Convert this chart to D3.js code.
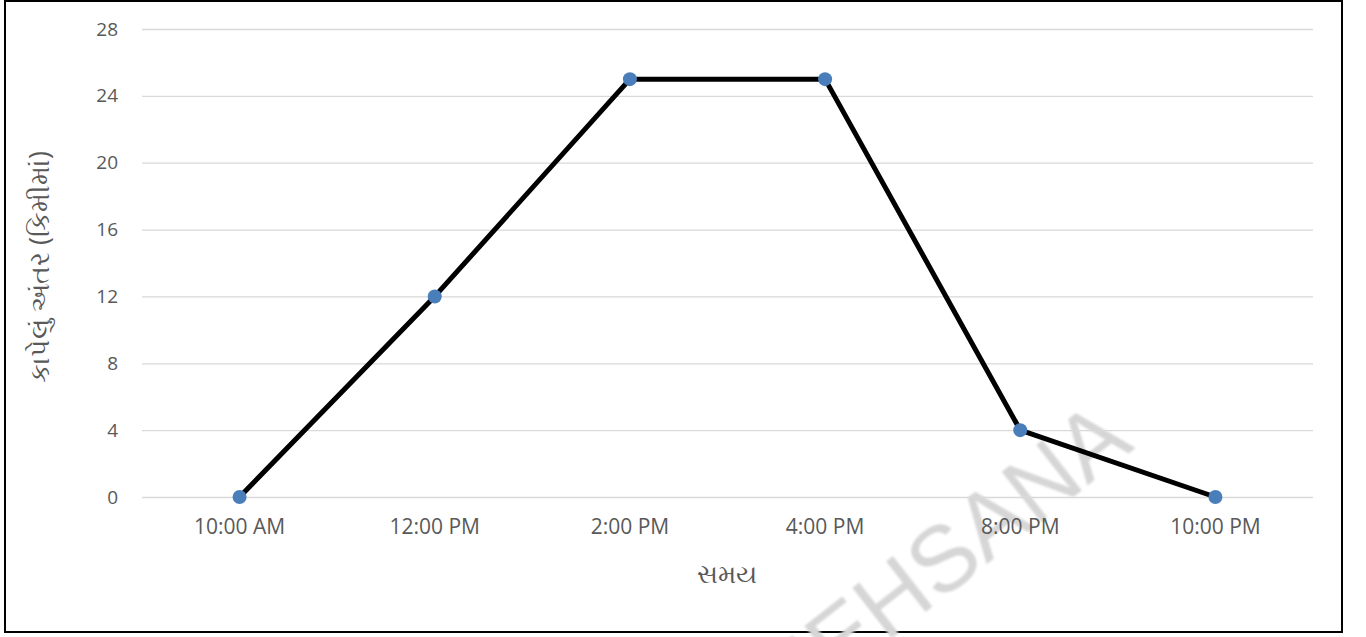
<!DOCTYPE html>
<html>
<head>
<meta charset="utf-8">
<script src="https://cdn.jsdelivr.net/npm/d3@7"></script>
<style>
body { margin: 0; background: #fff; }
text { font-family: "Open Sans", "Noto Sans", sans-serif; }
</style>
</head>
<body>
<svg class="canvas"></svg>
<script>
var times = ["10:00 AM", "12:00 PM", "2:00 PM", "4:00 PM", "8:00 PM", "10:00 PM"];
var distance = [0, 12, 25, 25, 4, 0];
var yTicks = [0, 4, 8, 12, 16, 20, 24, 28];

var width = 1366,
	height = 637;

var LEFT = 142, RIGHT = 1313, TOP = 29, BOTTOM = 497;

var canvas = d3.select(".canvas")
	.attr("width", width)
	.attr("height", height);

var defs = canvas.append("defs");
defs.append("filter").attr("id", "soft")
	.append("feGaussianBlur").attr("stdDeviation", 1.2);

// outer frame
canvas.append("rect")
	.attr("x", 5).attr("y", 1)
	.attr("width", 1337).attr("height", 631)
	.attr("fill", "#fff")
	.attr("stroke", "#000")
	.attr("stroke-width", 2);

// watermark (sits behind everything else)
canvas.append("text")
	.attr("transform", "translate(937,563) rotate(-38)")
	.attr("text-anchor", "middle")
	.attr("dy", ".35em")
	.attr("fill", "#d6d6d6")
	.attr("filter", "url(#soft)")
	.style("font-size", "92px")
	.style("font-family", "Liberation Sans, sans-serif")
	.text("MEHSANA");

var x = d3.scaleBand().domain(times).range([LEFT, RIGHT]).padding(0);
var y = d3.scaleLinear().domain([0, 28]).range([BOTTOM, TOP]);

// gridlines + y labels
var yAxis = d3.axisLeft(y).tickValues(yTicks).tickSize(-(RIGHT - LEFT)).tickPadding(24);
var gy = canvas.append("g")
	.attr("transform", "translate(" + LEFT + ",0)")
	.call(yAxis);
gy.select(".domain").remove();
gy.selectAll("line").attr("stroke", "#d9d9d9").attr("stroke-width", 1.3);
gy.selectAll("text").attr("fill", "#595959").style("font-size", "19px");

// x labels
var xAxis = d3.axisBottom(x).tickSize(0).tickPadding(22);
var gx = canvas.append("g")
	.attr("transform", "translate(0," + BOTTOM + ")")
	.call(xAxis);
gx.select(".domain").remove();
gx.selectAll("text").attr("fill", "#595959").style("font-size", "21px");

// line
var line = d3.line()
	.x(function(d, i) { return x(times[i]) + x.bandwidth() / 2; })
	.y(function(d) { return y(d); });

canvas.append("path")
	.datum(distance)
	.attr("d", line)
	.attr("fill", "none")
	.attr("stroke", "#000")
	.attr("stroke-width", 5)
	.attr("stroke-linejoin", "round");

canvas.selectAll("circle.pt").data(distance)
	.enter().append("circle")
	.attr("class", "pt")
	.attr("cx", function(d, i) { return x(times[i]) + x.bandwidth() / 2; })
	.attr("cy", function(d) { return y(d); })
	.attr("r", 7)
	.attr("fill", "#4a7ebb");

// axis titles
canvas.append("text")
	.attr("transform", "translate(40,267) rotate(-90)")
	.attr("text-anchor", "middle")
	.attr("dy", ".35em")
	.attr("fill", "#595959")
	.style("font-size", "27px")
	.text("કાપેલું અંતર (કિમીમાં)");

canvas.append("text")
	.attr("x", 727)
	.attr("y", 574)
	.attr("text-anchor", "middle")
	.attr("dy", ".35em")
	.attr("fill", "#595959")
	.style("font-size", "26px")
	.text("સમય");
</script>
</body>
</html>
